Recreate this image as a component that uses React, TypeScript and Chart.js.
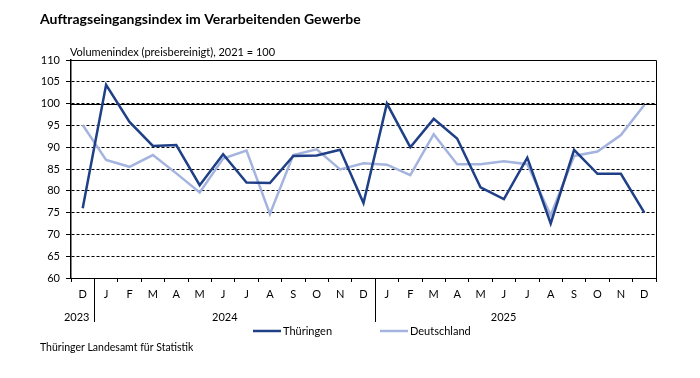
import React, { useEffect, useRef } from "react";
import { Chart, registerables } from "chart.js";

Chart.register(...registerables);

const monthLabels = ["D", "J", "F", "M", "A", "M", "J", "J", "A", "S", "O", "N", "D", "J", "F", "M", "A", "M", "J", "J", "A", "S", "O", "N", "D"];
const yearLabels = ["2023", "2024", "2025"];
const thueringen = [76, 104.3, 95.8, 90.3, 90.5, 81.3, 88.4, 81.9, 81.8, 88, 88.1, 89.4, 77.2, 100, 90, 96.5, 92, 80.8, 78.1, 87.6, 72.5, 89.4, 83.9, 83.9, 75];
const deutschland = [95.1, 87.1, 85.5, 88.2, 84, 79.6, 87.4, 89.2, 74.7, 88.2, 89.5, 84.9, 86.3, 86, 83.6, 93, 86.1, 86.1, 86.8, 86.1, 74.4, 88, 89, 92.8, 99.7];

const DARK = "#1f3f86";
const LIGHT = "#a4b4de";
const FONT = "Lato, 'Open Sans', sans-serif";

const extras = {
  id: "extras",
  beforeDatasetsDraw(chart: any) {
    const { ctx, chartArea, scales } = chart;
    const y = scales.y;
    ctx.save();
    // solid 100 line
    const p = Math.round(y.getPixelForValue(100)) + 0.5;
    ctx.strokeStyle = "#000";
    ctx.lineWidth = 1;
    ctx.setLineDash([]);
    ctx.beginPath();
    ctx.moveTo(chartArea.left, p);
    ctx.lineTo(chartArea.right, p);
    ctx.stroke();
    // box border top/right
    ctx.beginPath();
    ctx.moveTo(chartArea.left, Math.round(chartArea.top) + 0.5);
    ctx.lineTo(Math.round(chartArea.right) + 0.5, Math.round(chartArea.top) + 0.5);
    ctx.lineTo(Math.round(chartArea.right) + 0.5, chartArea.bottom);
    ctx.stroke();
    ctx.restore();
  },
  afterDraw(chart: any) {
    const { ctx, chartArea, scales } = chart;
    const x = scales.x;
    ctx.save();
    ctx.fillStyle = "#000";
    ctx.textBaseline = "middle";
    // title
    ctx.font = "bold 14px " + FONT;
    ctx.textAlign = "left";
    ctx.fillText("Auftragseingangsindex im Verarbeitenden Gewerbe", 40, 19);
    ctx.font = "11px " + FONT;
    ctx.fillText("Volumenindex (preisbereinigt), 2021 = 100", 70, 52);
    ctx.font = "10.5px " + FONT;
    ctx.fillText("Thüringer Landesamt für Statistik", 40, 348);
    // year separators
    const step = x.getPixelForValue(1) - x.getPixelForValue(0);
    const b1 = Math.round(x.getPixelForValue(0) + step / 2) + 0.5;
    const b2 = Math.round(x.getPixelForValue(12) + step / 2) + 0.5;
    ctx.strokeStyle = "#000";
    ctx.lineWidth = 1;
    ctx.beginPath();
    ctx.moveTo(b1, chartArea.bottom);
    ctx.lineTo(b1, 322);
    ctx.moveTo(b2, chartArea.bottom);
    ctx.lineTo(b2, 322);
    ctx.stroke();
    // year labels
    ctx.font = "11px " + FONT;
    ctx.textAlign = "center";
    ctx.fillText(yearLabels[0], x.getPixelForValue(0) - 6, 317);
    ctx.fillText(yearLabels[1], (x.getPixelForValue(1) + x.getPixelForValue(12)) / 2 - 10, 317);
    ctx.fillText(yearLabels[2], (x.getPixelForValue(13) + x.getPixelForValue(24)) / 2 - 12, 317);
    // legend
    const items = [
      { label: "Thüringen", color: DARK, x: 253 },
      { label: "Deutschland", color: LIGHT, x: 380 },
    ];
    ctx.textAlign = "left";
    ctx.font = "11px " + FONT;
    for (const it of items) {
      ctx.strokeStyle = it.color;
      ctx.lineWidth = 2.5;
      ctx.beginPath();
      ctx.moveTo(it.x, 331);
      ctx.lineTo(it.x + 28, 331);
      ctx.stroke();
      ctx.fillText(it.label, it.x + 30, 331);
    }
    ctx.restore();
  },
};

export default function App() {
  const ref = useRef<HTMLCanvasElement | null>(null);
  useEffect(() => {
    if (!ref.current) return;
    const chart = new Chart(ref.current, {
      type: "line",
      data: {
        labels: monthLabels,
        datasets: [
          { label: "Thüringen", data: thueringen, borderColor: DARK, backgroundColor: DARK, borderWidth: 2.5, pointRadius: 0, tension: 0 },
          { label: "Deutschland", data: deutschland, borderColor: LIGHT, backgroundColor: LIGHT, borderWidth: 2.5, pointRadius: 0, tension: 0 },
        ],
      },
      options: {
        animation: false,
        responsive: false,
        events: [],
        layout: { padding: { left: 0, top: 60, right: 44, bottom: 70 } },
        plugins: { legend: { display: false }, tooltip: { enabled: false }, title: { display: false } },
        scales: {
          x: {
            offset: true,
            grid: { offset: true, drawOnChartArea: false, drawTicks: true, tickLength: 4, color: "#000" },
            border: { color: "#000", width: 1 },
            ticks: { color: "#000", font: { family: FONT, size: 11 }, padding: 6, maxRotation: 0, autoSkip: false },
            afterFit: (s: any) => { s.height = 30; },
          },
          y: {
            min: 60,
            max: 110,
            ticks: { stepSize: 5, color: "#000", font: { family: FONT, size: 11 }, padding: 6 },
            grid: { color: "#000", lineWidth: 1, tickLength: 5 },
            border: { color: "#000", width: 1.5, dash: [3, 2] },
            afterFit: (s: any) => { s.width = 71; },
          },
        },
      },
      plugins: [extras],
    });
    return () => chart.destroy();
  }, []);
  return (
    <div style={{ position: "fixed", left: 0, top: 0, width: 700, height: 378, background: "#fff" }}>
      <canvas ref={ref} width={700} height={378} style={{ width: 700, height: 378 }} />
    </div>
  );
}
